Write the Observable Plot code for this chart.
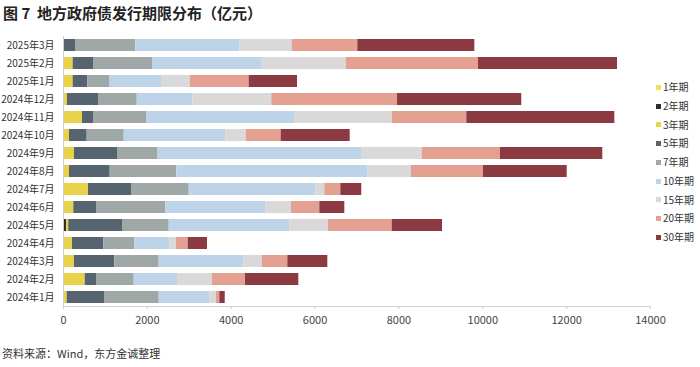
<!DOCTYPE html>
<html>
<head>
<meta charset="utf-8">
<script src="https://cdn.jsdelivr.net/npm/d3@7"></script>
<script src="https://cdn.jsdelivr.net/npm/@observablehq/plot@0.6"></script>
<style>
  html, body { margin: 0; padding: 0; background: #fff; }
  #wrap { position: relative; width: 700px; height: 367px; overflow: hidden;
          font-family: "Noto Sans CJK SC", "Liberation Sans", sans-serif; color: #333; }
  #title { position: absolute; left: 3px; top: 3px; font-size: 15px; line-height: 20px; font-weight: bold; color: #222; white-space: pre; }
  #chart { position: absolute; left: 0; top: 28px; }
  #legend { position: absolute; left: 656px; top: 78px; font-size: 10px; color: #333; }
  #legend .item { height: 18.75px; line-height: 18.75px; white-space: nowrap; }
  #legend .sw { display: inline-block; width: 5px; height: 5px; margin-right: 2px; vertical-align: middle; position: relative; top: -1px; }
  #caption { position: absolute; left: 2px; top: 345px; font-size: 11px; line-height: 16px; color: #333; }
</style>
</head>
<body>
<div id="wrap">
  <div id="title">图 7  地方政府债发行期限分布（亿元）</div>
  <div id="chart"></div>
  <div id="legend"></div>
  <div id="caption">资料来源：Wind，东方金诚整理</div>
</div>
<script>
const months = ["2024年1月","2024年2月","2024年3月","2024年4月","2024年5月","2024年6月","2024年7月","2024年8月","2024年9月","2024年10月","2024年11月","2024年12月","2025年1月","2025年2月","2025年3月"];
const seriesNames = ["1年期","2年期","3年期","5年期","7年期","10年期","15年期","20年期","30年期"];
const seriesColors = ["#f3df5c","#2e2e2e","#e8d24a","#56646f","#9fa8a7","#bcd3e8","#d9d9d9","#e4a192","#8b3a42"];
const y1  = [0,0,0,0,0,0,0,0,0,0,0,0,0,0,0];
const y2  = [0,0,0,0,75,0,0,0,0,0,0,25,0,0,0];
const y3  = [88,518,262,215,50,246,596,143,262,143,453,70,231,231,0];
const y5  = [890,269,962,746,1282,541,1026,971,1026,422,263,740,349,485,286];
const y7  = [1304,899,1058,739,1114,1653,1376,1588,954,883,1264,923,517,1407,1438];
const y10 = [1207,1033,2018,835,2876,2394,3019,4565,4865,2423,3529,1326,1240,2599,2481];
const y15 = [160,835,446,160,923,604,215,1033,1448,486,2331,1884,685,2020,1249];
const y20 = [79,787,604,279,1519,675,382,1717,1867,835,1779,2998,1407,3156,1565];
const y30 = [129,1271,954,460,1200,596,500,1996,2440,1646,3530,2964,1152,3315,2791];
const xTicks = [0,2000,4000,6000,8000,10000,12000,14000];

const seriesValues = [y1,y2,y3,y5,y7,y10,y15,y20,y30];
const data = [];
seriesNames.forEach((s, i) => {
  months.forEach((m, j) => data.push({month: m, series: s, value: seriesValues[i][j]}));
});

const chart = Plot.plot({
  width: 700,
  height: 306,
  marginLeft: 63,
  marginRight: 50,
  marginTop: 8,
  marginBottom: 28,
  style: {fontFamily: '"Noto Sans CJK SC", "Liberation Sans", sans-serif', fontSize: "10px", color: "#333", background: "#fff"},
  x: {domain: [0, 14000], ticks: xTicks, label: null},
  y: {domain: months.slice().reverse(), paddingInner: 0.36, paddingOuter: 0.15, label: null},
  color: {domain: seriesNames, range: seriesColors},
  marks: [
    Plot.barX(data, {x: "value", y: "month", fill: "series"}),
    Plot.ruleX([0], {stroke: "#cfcfcf"}),
    Plot.frame({anchor: "bottom", stroke: "#cfcfcf"}),
    Plot.axisX({ticks: xTicks, tickSize: 3, tickPadding: 7, stroke: "#cfcfcf", fontSize: 11, fill: "#444", tickFormat: d => String(d), label: null}),
    Plot.axisY({tickSize: 0, tickPadding: 9, fontSize: 10, fill: "#333", label: null})
  ]
});
document.getElementById("chart").appendChild(chart);

const legend = document.getElementById("legend");
seriesNames.forEach((s, i) => {
  const it = document.createElement("div");
  it.className = "item";
  const sw = document.createElement("span");
  sw.className = "sw";
  sw.style.background = seriesColors[i];
  it.appendChild(sw);
  it.appendChild(document.createTextNode(s));
  legend.appendChild(it);
});
</script>
</body>
</html>
